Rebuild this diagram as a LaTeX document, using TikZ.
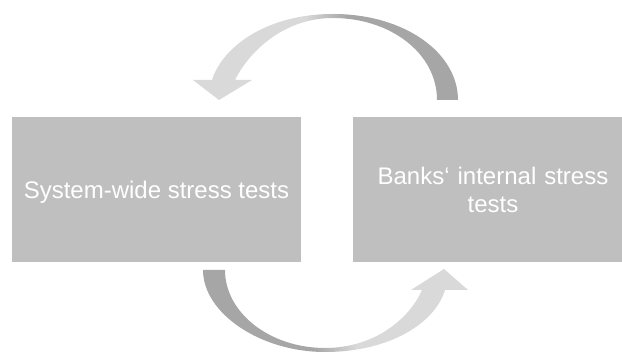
\documentclass[tikz,border=0pt]{standalone}
\usepackage{fontspec}
\setmainfont{Liberation Sans}
\usetikzlibrary{shapes}

\definecolor{boxgray}{HTML}{BFBFBF}
\definecolor{arrowlight}{HTML}{D9D9D9}
\definecolor{arrowdark}{HTML}{A6A6A6}
\pgfdeclarehorizontalshading{lightdark}{100bp}{color(0bp)=(arrowlight); color(46bp)=(arrowlight); color(54bp)=(arrowdark); color(100bp)=(arrowdark)}
\pgfdeclarehorizontalshading{darklight}{100bp}{color(0bp)=(arrowdark); color(46bp)=(arrowdark); color(54bp)=(arrowlight); color(100bp)=(arrowlight)}

\tikzset{testbox/.style={shape=rectangle,fill=boxgray,draw=none,align=center,text=white,font=\fontsize{24}{28}\selectfont,inner sep=0pt}}

\begin{document}
\begin{tikzpicture}[x=1pt,y=1pt]
\useasboundingbox (0,0) rectangle (622,353);
\node[testbox,minimum width=289pt,minimum height=145pt,text depth=0pt] (system) at (156.5,163.5) {System-wide stress tests};
\node[testbox,minimum width=280pt,minimum height=145pt,text width=250pt] (banks) at (493,163.5) {Banks‘ internal stress\\tests};

\shade[shading=lightdark] (458,253) .. controls (458,300) and (405,339) .. (333,339) .. controls (265,339) and (222,305) .. (212,273) -- (193,273) -- (219,253) -- (252,273) -- (235,273) .. controls (250,303) and (285,335) .. (333,335) .. controls (390,335) and (437,300) .. (437,253) -- cycle;
\shade[shading=darklight] (203,83) .. controls (203,40) and (260,1) .. (325,1) .. controls (390,1) and (435,30) .. (445,63) -- (468,63) -- (444,84) -- (411,63) -- (422,63) .. controls (410,35) and (375,5) .. (325,5) .. controls (270,5) and (225,40) .. (225,83) -- cycle;
\end{tikzpicture}
\end{document}
